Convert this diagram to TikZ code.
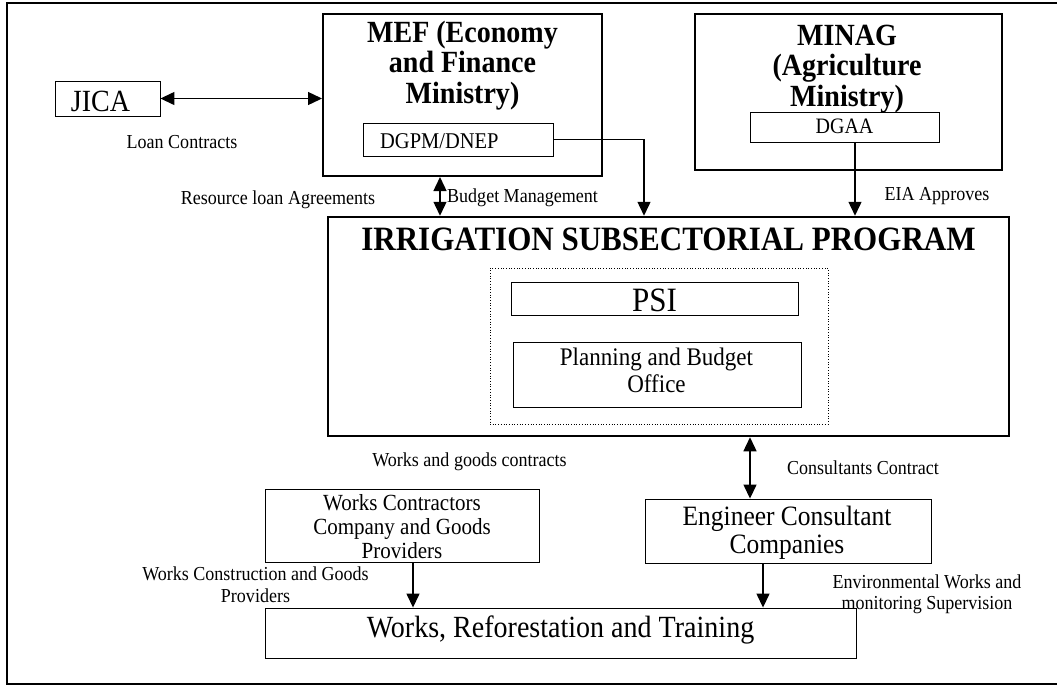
\documentclass[tikz,border=0pt]{standalone}
\usepackage{fontspec}
\setmainfont{Liberation Serif}[FakeStretch=0.91]
\usetikzlibrary{arrows.meta}
\tikzset{
  thinbox/.style={draw, line width=0.9pt, inner sep=0pt},
  thickbox/.style={draw, line width=2pt, inner sep=0pt},
  dotbox/.style={draw, line width=0.7pt, dotted, inner sep=0pt},
  titletext/.style={font=\bfseries\fontsize{30.8}{30.5}\selectfont, align=center, inner sep=0pt},
  txt/.style={inner sep=0pt},
  lbl/.style={font=\fontsize{19.8}{21}\selectfont, inner sep=0pt},
  arr/.style={line width=1.4pt, -{Triangle[length=14pt,width=13pt]}},
  darr/.style={line width=1.4pt, {Triangle[length=14pt,width=13pt]}-{Triangle[length=14pt,width=13pt]}}
}
\begin{document}
\begin{tikzpicture}[x=1pt,y=-1pt]
\useasboundingbox (0,0) rectangle (1057,686);
\draw[line width=1.6pt] (7,3) rectangle (1062,684);

% top row
\node[thinbox, minimum width=105pt, minimum height=35pt] (jica) at (107.5,98.5) {};
\node[txt, font=\fontsize{30.8}{34}\selectfont, anchor=base] (jicat) at (100.5,111) {JICA};

\node[thickbox, minimum width=279pt, minimum height=162pt] (mef) at (462.5,95) {};
\node[titletext, anchor=north] (meft) at (462.5,20.7) {MEF (Economy\\and Finance\\Ministry)};
\node[thinbox, minimum width=190pt, minimum height=33pt] (dgpm) at (458,139.5) {};
\node[txt, font=\fontsize{22.5}{26}\selectfont, anchor=base west] (dgpmt) at (380,148) {DGPM/DNEP};

\node[thickbox, minimum width=307pt, minimum height=156pt] (minag) at (848.5,92) {};
\node[titletext, anchor=north] (minagt) at (847,24.6) {MINAG\\(Agriculture\\Ministry)};
\node[thinbox, minimum width=189pt, minimum height=30pt] (dgaa) at (844.5,127.5) {};
\node[txt, font=\fontsize{22}{26}\selectfont, anchor=base] (dgaat) at (844.5,133.5) {DGAA};

% labels top
\node[lbl] (loan) at (182,142) {Loan Contracts};
\node[lbl] (res) at (278,200) {Resource loan Agreements};
\node[lbl, anchor=west] (bud) at (447,197.5) {Budget Management};
\node[lbl] (eia) at (937,196) {EIA Approves};

% program
\node[draw, line width=2.5pt, inner sep=0pt, minimum width=681pt, minimum height=219pt] (isp) at (668.5,326.5) {};
\node[txt, font=\bfseries\fontsize{34.1}{38}\selectfont, anchor=base] (ispt) at (668.5,250) {IRRIGATION SUBSECTORIAL PROGRAM};
\node[dotbox, minimum width=338pt, minimum height=156pt] (dot) at (659,346) {};
\node[thinbox, minimum width=287pt, minimum height=33pt] (psi) at (654.5,298.5) {};
\node[txt, font=\fontsize{34.1}{38}\selectfont, anchor=base] (psit) at (654.5,311) {PSI};
\node[thinbox, minimum width=288pt, minimum height=65pt] (plan) at (657,374.5) {};
\node[txt, font=\fontsize{25.3}{27}\selectfont, align=center, anchor=north] (plant) at (656.5,347.7) {Planning and Budget\\Office};

% bottom
\node[lbl] (wgc) at (469.5,462) {Works and goods contracts};
\node[lbl] (cc) at (863,468) {Consultants Contract};

\node[thinbox, minimum width=274pt, minimum height=73pt] (wcc) at (402,525.5) {};
\node[txt, font=\fontsize{23.1}{24}\selectfont, align=center, anchor=north] (wcct) at (402,494.2) {Works Contractors\\Company and Goods\\Providers};

\node[thinbox, minimum width=286pt, minimum height=64pt] (eng) at (788,531) {};
\node[txt, font=\fontsize{28}{28}\selectfont, align=center, anchor=north] (engt) at (787,505.9) {Engineer Consultant\\Companies};

\node[thinbox, minimum width=591pt, minimum height=50pt] (wrt) at (560.5,633) {};
\node[txt, font=\fontsize{30.8}{34}\selectfont, anchor=base] (wrtt) at (560.5,637.5) {Works, Reforestation and Training};

\node[lbl, align=center, anchor=north, font=\fontsize{19.8}{22}\selectfont] (wcg) at (255.5,566.5) {Works Construction and Goods\\Providers};
\node[lbl, align=center, anchor=north, font=\fontsize{19.8}{21}\selectfont] (env) at (927,574.5) {Environmental Works and\\monitoring Supervision};

% connectors
\coordinate (xa) at (440,0);
\coordinate (xb) at (644,0);
\coordinate (xc) at (855,0);
\coordinate (xd) at (750,0);
\coordinate (xe) at (413,0);
\coordinate (xf) at (763,0);
\draw[darr] (jica.east) -- (jica.east -| mef.west);
\draw[darr] (mef.south -| xa) -- (isp.north -| xa);
\draw[arr] (dgpm.east) -- (dgpm.east -| xb) -- (isp.north -| xb);
\draw[arr] (dgaa.south -| xc) -- (isp.north -| xc);
\draw[darr] (isp.south -| xd) -- (eng.north -| xd);
\draw[arr] (wcc.south -| xe) -- (wrt.north -| xe);
\draw[arr] (eng.south -| xf) -- (wrt.north -| xf);
\end{tikzpicture}
\end{document}
